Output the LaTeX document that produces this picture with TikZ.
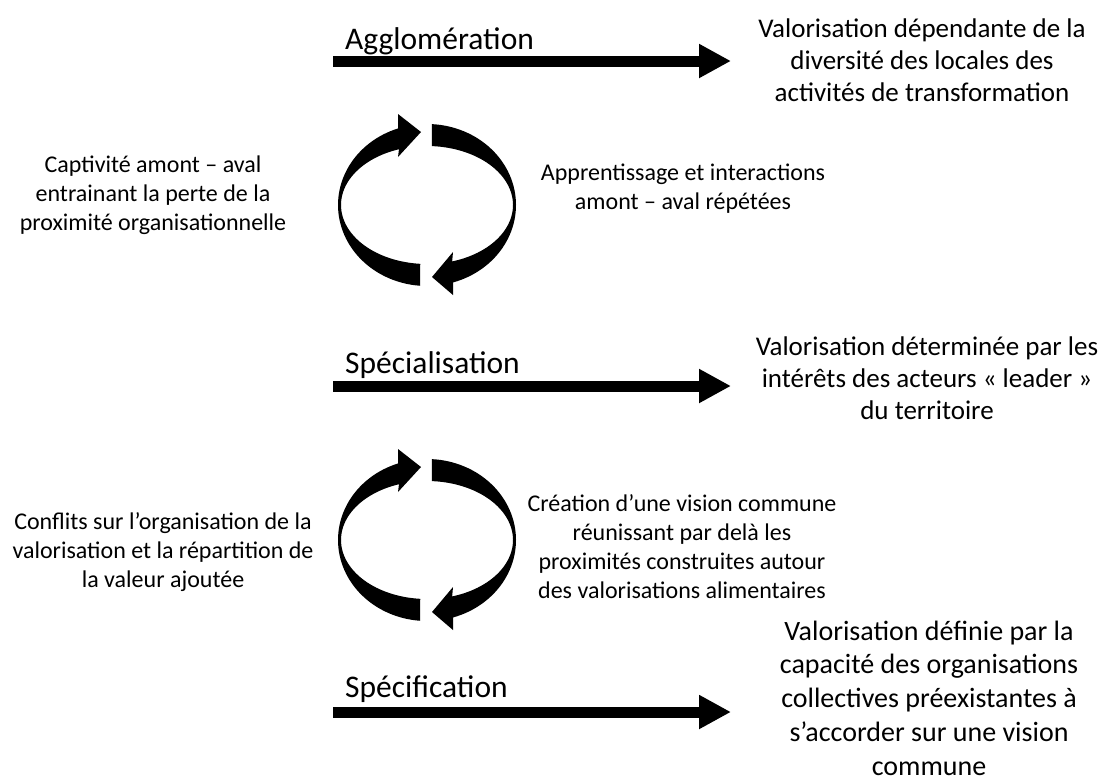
\documentclass[tikz,border=0pt]{standalone}
\usepackage{fontspec}
\setmainfont{Carlito}
\usetikzlibrary{arrows.meta}
\tikzset{
  stagelabel/.style={anchor=base west, inner sep=0pt, font=\fontsize{31.5}{38}\selectfont},
  outcome/.style={align=center, inner sep=0pt, font=\fontsize{27}{32}\selectfont},
  outcomeb/.style={align=center, inner sep=0pt, font=\fontsize{28}{33.8}\selectfont},
  sidetext/.style={align=center, inner sep=0pt, font=\fontsize{24}{29}\selectfont},
  bigarrow/.style={line width=11pt, -{Triangle[length=32pt,width=32pt]}},
}
\newcommand\mycyc[1]{%
  % left arc, arrow pointing right at the top
  \fill plot[domain=94.5:251, samples=60] ({427+89*cos(\x)},{#1+81*sin(\x)})
     -- (398,#1-91) -- (421,#1-73) -- (398,#1-48)
     -- plot[domain=251:94.5, samples=60] ({427+86*cos(\x)},{#1+59*sin(\x)}) -- cycle;
  % right arc, arrow pointing left at the bottom
  \fill plot[domain=-86.8:73, samples=60] ({427+89*cos(\x)},{#1+81*sin(\x)})
     -- (453,#1+90) -- (432,#1+72) -- (453,#1+47)
     -- plot[domain=73:-86.8, samples=60] ({427+86*cos(\x)},{#1+59*sin(\x)}) -- cycle;
}
\begin{document}
\begin{tikzpicture}[x=1pt,y=-1pt]
\useasboundingbox[fill=white] (0,0) rectangle (1115,780);

% stage labels
\node[stagelabel] (agg) at (345,49) {Agglomération};
\node[stagelabel] (spe) at (345,373) {Spécialisation};
\node[stagelabel] (spf) at (345,697) {Spécification};

% straight arrows
\coordinate (a1s) at (333,61);  \coordinate (a1e) at (731,61);
\coordinate (a2s) at (333,386); \coordinate (a2e) at (731,386);
\coordinate (a3s) at (333,712); \coordinate (a3e) at (731,712);
\draw[bigarrow] (a1s) -- (a1e);
\draw[bigarrow] (a2s) -- (a2e);
\draw[bigarrow] (a3s) -- (a3e);

% outcomes
\node[outcome] (o1) at (922,60) {Valorisation dépendante de la\\diversité des locales des\\activités de transformation};
\node[outcome] (o2) at (927,378) {Valorisation déterminée par les\\intérêts des acteurs « leader »\\du territoire};
\node[outcomeb] (o3) at (929,698) {Valorisation définie par la\\capacité des organisations\\collectives préexistantes à\\s’accorder sur une vision\\commune};

% cycles
\mycyc{205}
\mycyc{540}

% side texts
\node[sidetext] (l1) at (153,195) {Captivité amont – aval\\entrainant la perte de la\\proximité organisationnelle};
\node[sidetext] (r1) at (683,189) {Apprentissage et interactions\\amont – aval répétées};
\node[sidetext] (l2) at (163,552) {Conflits sur l’organisation de la\\valorisation et la répartition de\\la valeur ajoutée};
\node[sidetext] (r2) at (682,547) {Création d’une vision commune\\réunissant par delà les\\proximités construites autour\\des valorisations alimentaires};
\end{tikzpicture}
\end{document}
